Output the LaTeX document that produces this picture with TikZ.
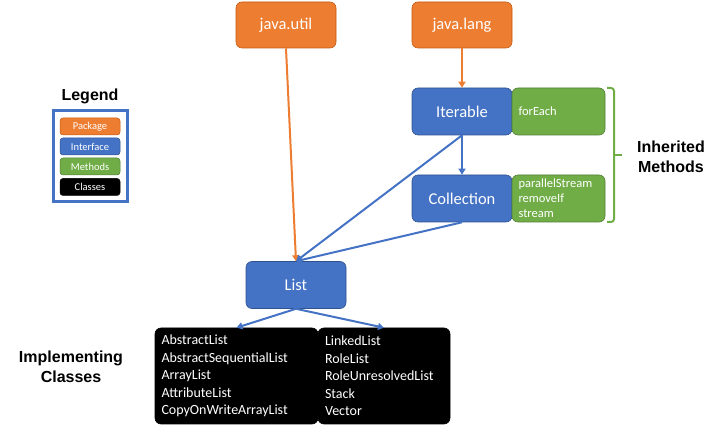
\documentclass[tikz,border=0pt]{standalone}
\usepackage{fontspec}
\setmainfont{Carlito}
\newfontfamily\arialfont{Liberation Sans}
\usetikzlibrary{arrows.meta}
\definecolor{orng}{HTML}{ED7D31}
\definecolor{orngb}{HTML}{C55A11}
\definecolor{blu}{HTML}{4472C4}
\definecolor{blub}{HTML}{2F528F}
\definecolor{grn}{HTML}{70AD47}
\definecolor{grnb}{HTML}{507E32}
\tikzset{
  box/.style={rounded corners=6pt, draw, line width=0.6pt, text=white, inner sep=0pt, align=center, font=\fontsize{16.5}{18}\selectfont},
  pkg/.style={box, fill=orng, draw=orngb, minimum width=100pt, minimum height=46pt},
  intf/.style={box, fill=blu, draw=blub, minimum width=100pt, minimum height=47pt},
  meth/.style={box, fill=grn, draw=grnb, minimum width=93pt, minimum height=47pt, text width=80pt, align=left, font=\fontsize{12.5}{15}\selectfont},
  cls/.style={box, fill=black, draw=black, minimum height=96pt, align=left, font=\fontsize{14}{17.5}\selectfont},
  leg/.style={rounded corners=3pt, draw, line width=0.5pt, text=white, inner sep=0pt, minimum width=60pt, minimum height=17pt, font=\fontsize{10.5}{11}\selectfont},
  oarr/.style={draw=orng, line width=2pt, -{Triangle[width=7pt,length=6pt]}},
  barr/.style={draw=blu, line width=2pt, -{Triangle[width=7pt,length=6pt]}},
  title/.style={font=\arialfont\bfseries\fontsize{16}{19.5}\selectfont, align=center}
}
\begin{document}
\begin{tikzpicture}[x=1pt,y=-1pt]
\useasboundingbox (0,0) rectangle (715,427);
% packages
\node[pkg] (util) at (286,25) {java.util};
\node[pkg] (lang) at (462,25) {java.lang};
% interfaces
\node[intf] (iter) at (462,111.5) {Iterable};
\node[meth] (fe) at (558.5,111.5) {forEach};
\node[intf] (coll) at (462,198.5) {Collection};
\node[meth] (cm) at (558.5,198.5) {parallelStream\\removeIf\\stream};
\node[intf] (list) at (296,285) {List};
% classes
\node[cls, minimum width=163pt, text width=150pt] (lc) at (236.5,376) {AbstractList\\AbstractSequentialList\\ArrayList\\AttributeList\\CopyOnWriteArrayList};
\node[cls, minimum width=132pt, text width=118pt] (rc) at (384,376) {LinkedList\\RoleList\\RoleUnresolvedList\\Stack\\Vector};
% arrows
\draw[oarr] (util.south) -- (list.north);
\draw[oarr] (lang.south) -- (iter.north);
\draw[barr] (iter.south) -- (coll.north);
\draw[barr] (iter.south) -- (list.north);
\draw[barr] (coll.south) -- (list.north);
\draw[barr] (list.south) -- (lc.north);
\draw[barr] (list.south) -- (rc.north);
% brace
\draw[grn, line width=2pt, rounded corners=3pt] (607,88) -- (614,88) -- (614,222) -- (607,222);
\draw[grn, line width=2pt] (614,155) -- (622,155);
\node[title] (inh) at (671,157) {Inherited\\Methods};
\node[title] (impl) at (71,367) {Implementing\\Classes};
% legend
\node[title] (legt) at (90,96) {Legend};
\draw[blu, line width=3pt] (53,111) rectangle (127,202);
\node[leg, fill=orng, draw=orngb] (lp) at (90,126.5) {Package};
\node[leg, fill=blu, draw=blub] (li) at (90,146.5) {Interface};
\node[leg, fill=grn, draw=grnb] (lm) at (90,166.5) {Methods};
\node[leg, fill=black, draw=black] (lk) at (90,187) {Classes};
\end{tikzpicture}
\end{document}
